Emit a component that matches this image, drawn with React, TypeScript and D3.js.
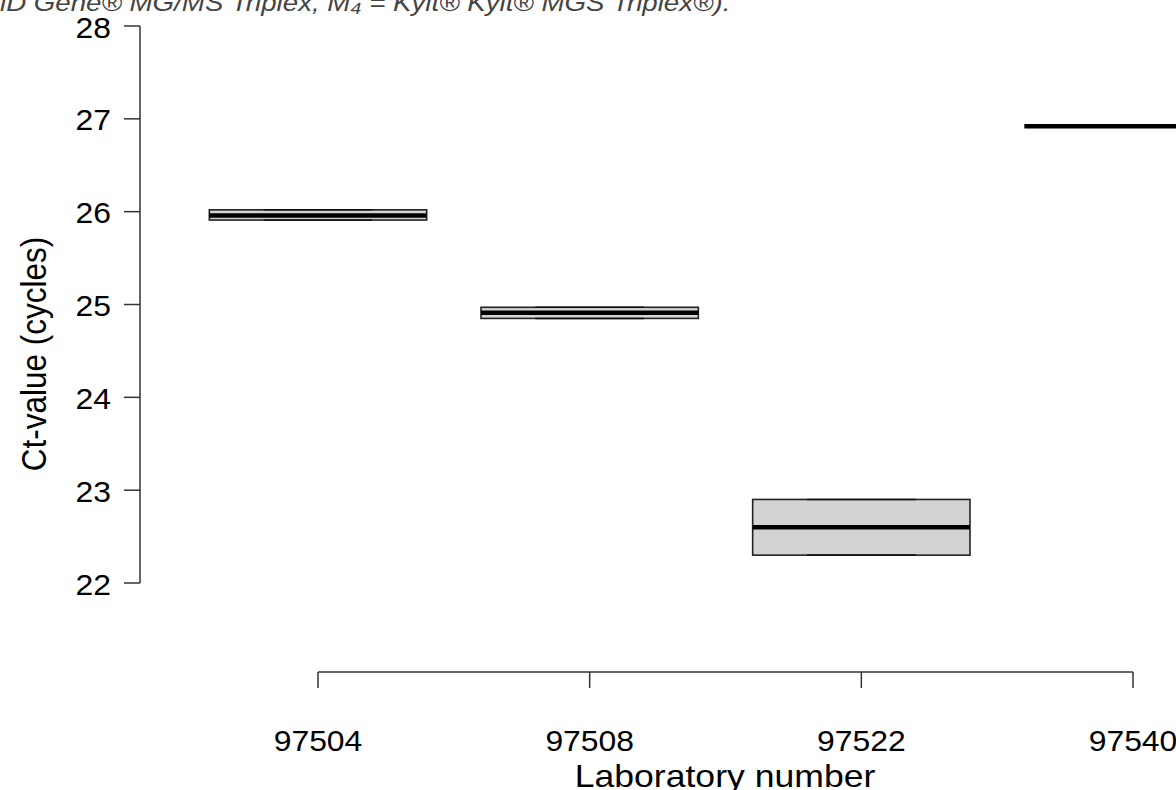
import React from "react";
import * as d3 from "d3";

const labs = ["97504", "97508", "97522", "97540"];
const q1 = [25.91, 24.85, 22.3, 26.92];
const med = [25.96, 24.91, 22.6, 26.92];
const q3 = [26.02, 24.97, 22.9, 26.92];
const yTicks = [22, 23, 24, 25, 26, 27, 28];
const caption = "iD Gene® MG/MS Triplex, M₄ = Kylt® Kylt® MGS Triplex®).";

const W = 1176;
const H = 790;
const FONT = "'Liberation Sans', Arial, Helvetica, sans-serif";
const SX = 1.13;
const SXT = 1.08;

export default function App() {
  const y = d3.scaleLinear().domain([22, 28]).range([583, 26]);
  const x = d3.scaleLinear().domain([1, 4]).range([318, 1133]);
  const step = x(2) - x(1);
  const half = step * 0.4;
  const staple = half * 0.5;
  const axisColor = "#333";
  const xAxisY = 672;
  const yAxisX = 140;

  return (
    <svg
      width={W}
      height={H}
      style={{ position: "absolute", left: 0, top: 0, background: "#fff" }}
      fontFamily={FONT}
    >
      <rect x={0} y={0} width={W} height={H} fill="#fff" />
      <text transform={`translate(0,11) scale(${SX},1)`} fontSize={24.5} fontStyle="italic" fill="#444">
        {caption}
      </text>

      {/* boxes */}
      {labs.map((l, i) => {
        const cx = x(i + 1);
        const top = y(q3[i]);
        const bot = y(q1[i]);
        return (
          <g key={l}>
            {q3[i] > q1[i] && (
              <rect
                x={cx - half}
                y={top}
                width={2 * half}
                height={bot - top}
                fill="#d3d3d3"
                stroke="#222"
                strokeWidth={1.6}
              />
            )}
            <line x1={cx - staple} x2={cx + staple} y1={top} y2={top} stroke="#111" strokeWidth={1.6} />
            <line x1={cx - staple} x2={cx + staple} y1={bot} y2={bot} stroke="#111" strokeWidth={1.6} />
            <line x1={cx - half} x2={cx + half} y1={y(med[i])} y2={y(med[i])} stroke="#000" strokeWidth={4.5} />
          </g>
        );
      })}

      {/* y axis */}
      <line x1={yAxisX} x2={yAxisX} y1={y(28)} y2={y(22)} stroke={axisColor} strokeWidth={1.5} />
      {yTicks.map((t) => (
        <g key={t}>
          <line x1={yAxisX - 16} x2={yAxisX} y1={y(t)} y2={y(t)} stroke={axisColor} strokeWidth={1.5} />
          <text
            transform={`translate(111,${y(t) + 1}) scale(${SXT},1)`}
            dy="0.36em"
            textAnchor="end"
            fontSize={29.5}
            fill="#000"
          >
            {t}
          </text>
        </g>
      ))}
      <text
        transform={`translate(33,354) scale(${SX},1) rotate(-90)`}
        textAnchor="middle"
        dy="0.36em"
        fontSize={31.5}
        fill="#000"
      >
        Ct-value (cycles)
      </text>

      {/* x axis */}
      <line x1={x(1)} x2={x(4)} y1={xAxisY} y2={xAxisY} stroke={axisColor} strokeWidth={1.5} />
      {labs.map((l, i) => (
        <g key={l}>
          <line x1={x(i + 1)} x2={x(i + 1)} y1={xAxisY} y2={xAxisY + 16} stroke={axisColor} strokeWidth={1.5} />
          <text
            transform={`translate(${x(i + 1)},740) scale(${SXT},1)`}
            dy="0.36em"
            textAnchor="middle"
            fontSize={29.5}
            fill="#000"
          >
            {l}
          </text>
        </g>
      ))}
      <text
        transform={`translate(725,776) scale(${SX},1)`}
        dy="0.36em"
        textAnchor="middle"
        fontSize={31.5}
        fill="#000"
      >
        Laboratory number
      </text>
    </svg>
  );
}
